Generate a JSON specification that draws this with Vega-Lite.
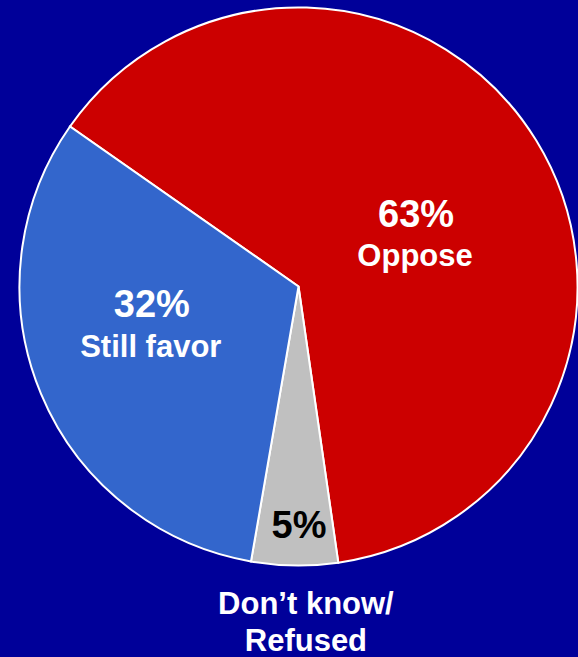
{
  "$schema": "https://vega.github.io/schema/vega-lite/v6.json",
  "width": 558,
  "height": 558,
  "autosize": {"type": "none"},
  "padding": {"left": 19.5, "top": 7.5, "right": 0.5, "bottom": 91.5},
  "background": "#000099",
  "config": {"view": {"stroke": null}},
  "data": {
    "values": [
      {"category": "Oppose", "name": "Oppose", "value": 63, "pct": "63%", "order": 1},
      {"category": "Don’t know/Refused", "name": "Don’t know/\nRefused", "value": 5, "pct": "5%", "order": 2},
      {"category": "Still favor", "name": "Still favor", "value": 32, "pct": "32%", "order": 3}
    ]
  },
  "encoding": {
    "theta": {"field": "value", "type": "quantitative", "stack": true, "scale": {"domain": [0, 100], "range": [-0.9599, 5.3233]}},
    "order": {"field": "order", "type": "quantitative"}
  },
  "layer": [
    {
      "mark": {"type": "arc", "stroke": "white", "strokeWidth": 2},
      "encoding": {
        "color": {
          "field": "category", "type": "nominal",
          "scale": {"domain": ["Oppose", "Don’t know/Refused", "Still favor"], "range": ["#CC0000", "#C0C0C0", "#3366CC"]},
          "legend": null
        }
      }
    },
    {
      "mark": {"type": "text", "radius": 138, "dy": 13, "fontSize": 38, "fontWeight": "bold", "font": "Liberation Sans", "color": "white", "baseline": "alphabetic", "align": "center"},
      "encoding": {"text": {"condition": {"test": "datum.category === 'Oppose'", "field": "pct"}, "value": ""}}
    },
    {
      "mark": {"type": "text", "radius": 138, "dx": -1, "dy": 52, "fontSize": 31, "fontWeight": "bold", "font": "Liberation Sans", "color": "white", "baseline": "alphabetic", "align": "center"},
      "encoding": {"text": {"condition": {"test": "datum.category === 'Oppose'", "field": "name"}, "value": ""}}
    },
    {
      "mark": {"type": "text", "radius": 160, "dx": 1, "dy": -31, "fontSize": 38, "fontWeight": "bold", "font": "Liberation Sans", "color": "white", "baseline": "alphabetic", "align": "center"},
      "encoding": {"text": {"condition": {"test": "datum.category === 'Still favor'", "field": "pct"}, "value": ""}}
    },
    {
      "mark": {"type": "text", "radius": 160, "dy": 9, "fontSize": 31, "fontWeight": "bold", "font": "Liberation Sans", "color": "white", "baseline": "alphabetic", "align": "center"},
      "encoding": {"text": {"condition": {"test": "datum.category === 'Still favor'", "field": "name"}, "value": ""}}
    },
    {
      "mark": {"type": "text", "radius": 252, "dx": 4, "fontSize": 38, "fontWeight": "bold", "font": "Liberation Sans", "color": "black", "baseline": "alphabetic", "align": "center"},
      "encoding": {"text": {"condition": {"test": "datum.category === 'Don’t know/Refused'", "field": "pct"}, "value": ""}}
    },
    {
      "mark": {"type": "text", "radius": 328, "dx": 12, "fontSize": 31, "fontWeight": "bold", "font": "Liberation Sans", "color": "white", "baseline": "alphabetic", "align": "center", "lineBreak": "\n", "lineHeight": 37},
      "encoding": {"text": {"condition": {"test": "datum.category === 'Don’t know/Refused'", "field": "name"}, "value": ""}}
    }
  ]
}
